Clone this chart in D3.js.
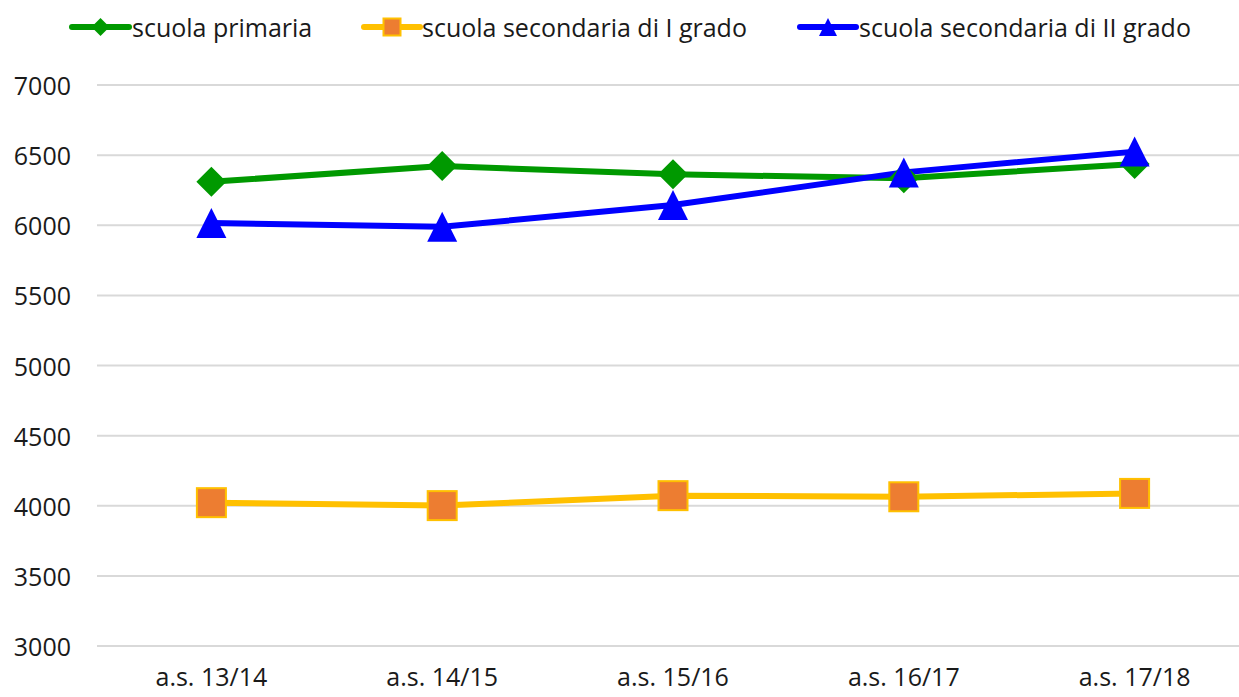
<!DOCTYPE html>
<html>
<head>
<meta charset="utf-8">
<script src="https://cdn.jsdelivr.net/npm/d3@7"></script>
<style>
  body { margin: 0; background: #fff; }
  svg text { font-family: "Open Sans", sans-serif; fill: #1a1a1a; }
</style>
</head>
<body>
<div id="chart"></div>
<script>
// data
const categories = ['a.s. 13/14', 'a.s. 14/15', 'a.s. 15/16', 'a.s. 16/17', 'a.s. 17/18'];
const primaria = [6310, 6422, 6363, 6335, 6437];
const secondaria1 = [4022, 4001, 4072, 4064, 4088];
const secondaria2 = [6016, 5989, 6144, 6377, 6525];
const yTicks = [3000, 3500, 4000, 4500, 5000, 5500, 6000, 6500, 7000];

const series = [
    {name: 'scuola primaria', values: primaria, colour: '#009900', marker: 'diamond'},
    {name: 'scuola secondaria di I grado', values: secondaria1, colour: '#FFC000', marker: 'square'},
    {name: 'scuola secondaria di II grado', values: secondaria2, colour: '#0000FF', marker: 'triangle'}
];

const width = 1239, height = 697;
const fontSize = '25px';
const svg = d3.select('#chart').append('svg')
    .attr('width', width)
    .attr('height', height);

// scales
const x = d3.scaleBand()
    .domain(categories)
    .range([96, 1250]);
const y = d3.scaleLinear()
    .domain([3000, 7000])
    .range([646, 85]);

// gridlines + y labels
const yAxis = svg.append('g');
yAxis.selectAll('line')
    .data(yTicks)
    .enter()
    .append('line')
        .attr('x1', 97)
        .attr('x2', width)
        .attr('y1', d => y(d))
        .attr('y2', d => y(d))
        .style('stroke', '#d9d9d9')
        .style('stroke-width', 2);
yAxis.selectAll('text')
    .data(yTicks)
    .enter()
    .append('text')
        .attr('x', 71)
        .attr('y', d => y(d))
        .attr('text-anchor', 'end')
        .attr('dominant-baseline', 'central')
        .style('font-size', fontSize)
        .text(d => d);

// x labels
svg.append('g').selectAll('text')
    .data(categories)
    .enter()
    .append('text')
        .attr('x', d => x(d) + x.bandwidth() / 2)
        .attr('y', 686)
        .attr('text-anchor', 'middle')
        .style('font-size', fontSize)
        .text(d => d);

// marker drawing helper, size = full width of the marker
function drawMarker(sel, type, size) {
    const h = size / 2;
    if (type === 'diamond') {
        sel.append('path')
            .attr('d', `M0,${-h}L${h},0L0,${h}L${-h},0Z`)
            .style('fill', '#009900');
    } else if (type === 'triangle') {
        sel.append('path')
            .attr('d', `M0,${-h}L${h},${h}L${-h},${h}Z`)
            .style('fill', '#0000FF');
    } else {
        sel.append('rect')
            .attr('x', -h + 1)
            .attr('y', -h + 1)
            .attr('width', size - 2)
            .attr('height', size - 2)
            .style('fill', '#ED7D31')
            .style('stroke', '#FFC000')
            .style('stroke-width', 2);
    }
}

const line = d3.line()
    .x((d, i) => x(categories[i]) + x.bandwidth() / 2)
    .y(d => y(d));

// lines
series.forEach(s => {
    svg.append('path')
        .datum(s.values)
        .attr('d', line)
        .style('fill', 'none')
        .style('stroke', s.colour)
        .style('stroke-width', 6)
        .style('stroke-linejoin', 'round');
});

// markers on top of lines
series.forEach(s => {
    svg.append('g').selectAll('g')
        .data(s.values)
        .enter()
        .append('g')
            .attr('transform', (d, i) => `translate(${x(categories[i]) + x.bandwidth() / 2}, ${y(d)})`)
            .each(function() { drawMarker(d3.select(this), s.marker, s.marker === 'square' ? 31 : 30); });
});

// legend
const legendPos = [{x1: 72, x2: 129, t: 132}, {x1: 364, x2: 420, t: 422}, {x1: 800, x2: 856, t: 859}];
const legend = svg.append('g');
series.forEach((s, i) => {
    const p = legendPos[i];
    const g = legend.append('g');
    g.append('line')
        .attr('x1', p.x1).attr('x2', p.x2)
        .attr('y1', 27).attr('y2', 27)
        .style('stroke', s.colour)
        .style('stroke-width', 6)
        .style('stroke-linecap', 'round');
    const m = g.append('g').attr('transform', `translate(${(p.x1 + p.x2) / 2}, 27)`);
    drawMarker(m, s.marker, s.marker === 'square' ? 19 : 18);
    g.append('text')
        .attr('x', p.t)
        .attr('y', 27)
        .attr('dominant-baseline', 'central')
        .style('font-size', fontSize)
        .text(s.name);
});
</script>
</body>
</html>
